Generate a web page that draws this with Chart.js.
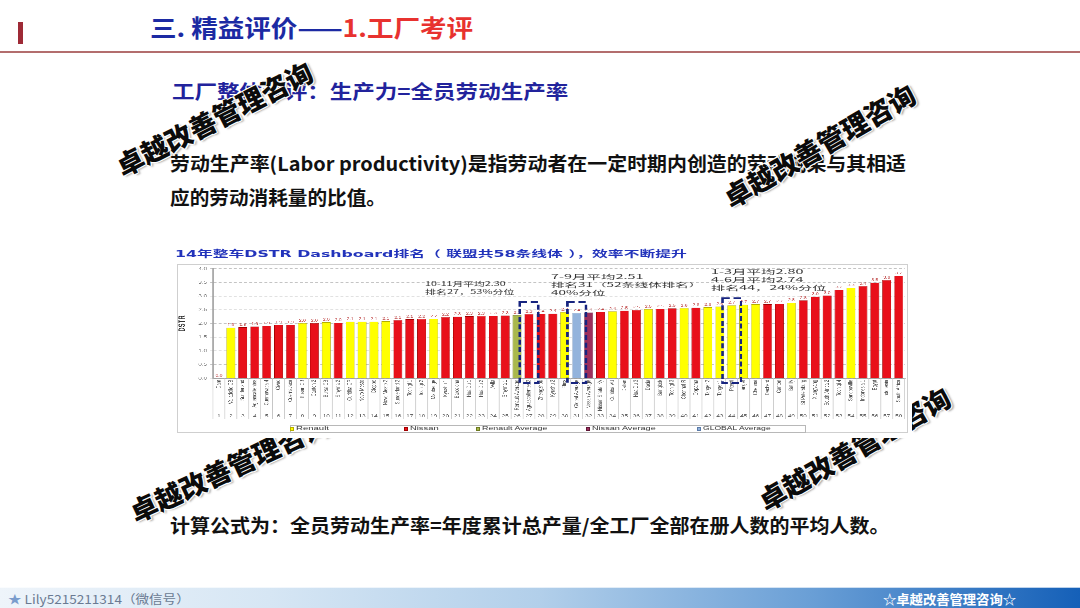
<!DOCTYPE html>
<html><head><meta charset="utf-8">
<script src="https://cdn.jsdelivr.net/npm/chart.js@4.4.1/dist/chart.umd.min.js"></script>
<style>
html,body{margin:0;padding:0;}
body{width:1080px;height:608px;position:relative;overflow:hidden;background:#fff;font-family:"Noto Sans CJK SC","Noto Sans",sans-serif;}
.t{position:absolute;white-space:nowrap;transform-origin:0 50%;display:inline-block;}
.wm{position:absolute;white-space:nowrap;font-family:"Noto Sans CJK SC";font-weight:900;font-size:27px;color:#0b0b0b;
  text-shadow:1px 1px 0 #fff,-1px -1px 0 #fff,1px -1px 0 #fff,-1px 1px 0 #fff,2px 2px 2px rgba(0,0,0,.35);}
</style></head><body>
<div style="position:absolute;left:18px;top:22px;width:5px;height:22px;background:#9e2a36;"></div>
<div style="position:absolute;left:0;top:51px;width:1080px;height:1.5px;background:#b36d6d;"></div>
<div class="wm" style="left:854px;top:448px;z-index:1;transform:translate(-50%,-50%) rotate(-30deg)">卓越改善管理咨询</div>
<div class="wm" style="left:229px;top:467px;z-index:1;transform:translate(-50%,-50%) rotate(-25deg)">卓越改善管理咨询</div>
<div style="position:absolute;left:170px;top:244px;width:742px;height:194px;background:#fff;z-index:2"></div>
<div id="wrap" style="position:absolute;left:177px;top:264px;width:504px;height:169px;transform:scaleX(1.4504);transform-origin:0 0;z-index:3">
  <canvas id="c"></canvas>
</div>
<div style="position:absolute;left:177px;top:264px;width:731px;height:169px;border:1px solid #cfcfcf;box-sizing:border-box;z-index:4"></div>
<div id="legendBox" style="position:absolute;left:290px;top:425px;width:516px;height:8px;border:1px solid #b8b8b8;box-sizing:border-box;background:#fff;z-index:5"></div>
<div id="layer"></div>
<div style="position:absolute;left:0;top:587px;width:1080px;height:21px;background:linear-gradient(to right,#eef4fa 0%,#d6e6f4 25%,#b2cfea 50%,#6a9fd6 75%,#1560b8 100%);z-index:5"></div>
<div style="position:absolute;left:0;top:587px;width:1080px;height:1px;background:rgba(255,255,255,.7);z-index:6"></div>
<div class="wm" style="left:214px;top:118px;z-index:10;transform:translate(-50%,-50%) rotate(-27deg)">卓越改善管理咨询</div>
<div class="wm" style="left:819px;top:145px;z-index:10;transform:translate(-50%,-50%) rotate(-30deg)">卓越改善管理咨询</div>
<script>
// ---- data ----
const categories = ["Dam","Valladolid CB","Sunderland","Aguascalientes","Cuernavaca 4","Civac","Cuernavaca","Busan CB","Canton 2","Bursa CB","Smyrna 2","Curitiba CP","Novo Mesto","Dieppe","Novo Mesto 2","Sunderland 2","Tochigi 1","Tochigi 2","Maubeuge","Kyushu 1","Barcelona","Hua Du 1","Hua Du 2","Avila","Smyrna 1","Renault Average","Aguascalientes 2","Zhengzhou","Kyushu 2","Flins","Global Average","Nissan Average","Nissan Shatai Kyushu","Curitiba VU","Dalian","Hua Du 3","Dacia","Bangkok","Tochigi 3","Chennai R","Oppama","Tanger 2","Tanger 1","Pitesti","Tanger","Chennai","Decherd","Canton","Batilly","St Petersburg","Xiangyang","South Africa 2","Tochigi 4","Sandouville","Indonesia 1","Egypt","Indonesia","South Africa"];
const rankNumbers = ["1","2","3","4","5","6","7","8","9","10","11","12","13","14","15","16","17","18","19","20","21","22","23","24","25","26","27","28","29","30","31","32","33","34","35","36","37","38","39","40","41","42","43","44","45","46","47","48","49","50","51","52","53","54","55","56","57","58"];
const dstrValues = [0.0,1.85,1.86,1.89,1.91,1.95,1.95,2.01,2.01,2.04,2.03,2.07,2.07,2.07,2.08,2.12,2.15,2.16,2.17,2.23,2.25,2.26,2.27,2.28,2.29,2.30,2.34,2.35,2.36,2.41,2.38,2.40,2.42,2.44,2.47,2.49,2.52,2.53,2.55,2.56,2.58,2.59,2.62,2.66,2.69,2.70,2.70,2.71,2.76,2.84,2.98,3.02,3.23,3.30,3.36,3.49,3.58,3.74];
const plantGroups = ["N","R","N","N","N","N","N","R","N","R","N","R","R","R","R","N","N","N","R","N","N","N","N","N","N","RA","N","N","N","R","GA","NA","N","R","N","N","R","N","N","R","N","R","R","R","R","R","N","N","R","N","N","N","N","R","N","N","N","N"];
const yTicksMin = 0, yTicksMax = 4, yStep = 0.5;
const legendLabels = ["Renault","Nissan","Renault Average","Nissan Average","GLOBAL Average"];
const legendGroups = ["R","N","RA","NA","GA"];
const highlightIdx = [26,30,43];
const highlightTop = [2.78,2.78,2.92];

// ---- styles ----
const fill = {R:"#ffff00",N:"#e8101a",RA:"#a9b84c",NA:"#9c2f5c",GA:"#93b3dc"};
const edge = {R:"#b5ad00",N:"#a00000",RA:"#6d7a20",NA:"#5e1535",GA:"#5a7aa8"};

const overlay = {
  id:"overlay",
  afterDatasetsDraw(chart){
    const ctx = chart.ctx, meta = chart.getDatasetMeta(0);
    ctx.save();
    ctx.font = "3.4px Arial"; ctx.fillStyle = "#c04848"; ctx.textAlign = "center"; ctx.textBaseline = "bottom";
    meta.data.forEach((el,i)=>{ ctx.fillText(dstrValues[i].toFixed(1), el.x, el.y - 0.8); });
    ctx.restore();
  },
  afterDraw(chart){
    const ctx = chart.ctx, xs = chart.scales.x, ys = chart.scales.y, a = chart.chartArea;
    const half = (xs.getPixelForValue(1) - xs.getPixelForValue(0)) / 2;
    ctx.save();
    ctx.strokeStyle = "#c6c6c6"; ctx.lineWidth = 0.5;
    const seps = categories.map((_,i)=>xs.getPixelForValue(i) - half);
    seps.push(xs.getPixelForValue(categories.length - 1) + half);
    seps.forEach(x=>{ ctx.beginPath(); ctx.moveTo(x, a.bottom); ctx.lineTo(x, a.bottom + 41); ctx.stroke(); });
    ctx.strokeStyle = "#17247f"; ctx.lineWidth = 1.7; ctx.setLineDash([5,2.6]);
    highlightIdx.forEach((idx,k)=>{
      const cx = xs.getPixelForValue(idx), w = half * 1.55;
      const top = ys.getPixelForValue(highlightTop[k]), bottom = a.bottom + 4.5;
      ctx.strokeRect(cx - w, top, 2 * w, bottom - top);
    });
    ctx.restore();
  }
};

new Chart(document.getElementById("c"), {
  type:"bar",
  data:{ labels:categories, datasets:[{ data:dstrValues,
    backgroundColor: plantGroups.map(g=>fill[g]), borderColor: plantGroups.map(g=>edge[g]), borderWidth:0.35,
    categoryPercentage:1, barPercentage:0.74 }]},
  options:{
    responsive:true, maintainAspectRatio:false, animation:false, devicePixelRatio:3,
    layout:{padding:{left:0,right:1.4,top:2.7,bottom:13.7}},
    plugins:{legend:{display:false}, tooltip:{enabled:false}},
    scales:{
      x:{ type:"category", position:"bottom", weight:0, offset:true,
        grid:{display:false, drawTicks:false, tickLength:0}, border:{display:true,color:"#8a8a8a",width:0.8},
        ticks:{autoSkip:false,maxRotation:90,minRotation:90,padding:1.5,color:"#555",font:{size:4.1,family:"Arial"},
          callback(v,i){ const s = categories[i]; return s.length > 16 ? s.slice(0,16) : s; }},
        afterFit(s){ s.height = 34; } },
      x2:{ type:"category", labels:rankNumbers, position:"bottom", weight:1, offset:true,
        grid:{display:false, drawTicks:false, tickLength:0}, border:{display:false},
        ticks:{autoSkip:false,maxRotation:0,minRotation:0,padding:1.2,color:"#666",font:{size:4.4,family:"Arial"}},
        afterFit(s){ s.height = 7; } },
      y:{ min:yTicksMin, max:yTicksMax,
        ticks:{stepSize:yStep, callback:v=>Number(v).toFixed(1), color:"#7a7a7a", font:{size:4.4,family:"Arial"}, padding:2},
        grid:{color:"#c4c4c4", lineWidth:0.6, tickLength:2},
        border:{color:"#8a8a8a", width:0.8, dash:[2,1.5]},
        title:{display:true, text:"DSTR", color:"#333", font:{size:6,weight:"bold",family:"Arial"}, padding:{top:0,bottom:0}},
        afterFit(s){ s.width = 24.8; } }
    }
  },
  plugins:[overlay]
});

// ---- slide texts ----
const texts = [
  {html:'三. 精益评价——<span style="color:#e8322f">1.工厂考评</span>', x:150, w:323, cy:27, fs:24, color:"#1c2aa3", weight:700},
  {html:'工厂整体考评：生产力=全员劳动生产率', x:172, w:396, cy:90, fs:19, color:"#22239c", weight:700},
  {html:'劳动生产率(Labor productivity)是指劳动者在一定时期内创造的劳动成果与其相适', x:170, w:736, cy:162, fs:19, color:"#111", weight:700},
  {html:'应的劳动消耗量的比值。', x:170, w:216, cy:196, fs:19, color:"#111", weight:700},
  {html:'计算公式为：全员劳动生产率=年度累计总产量/全工厂全部在册人数的平均人数。', x:170, w:720, cy:524, fs:19, color:"#111", weight:700},
  {html:'14年整车DSTR Dashboard排名（ 联盟共58条线体 ），效率不断提升', x:175, w:512, cy:254.5, fs:9, color:"#2233bb", weight:700, family:'"DejaVu Sans","Noto Sans CJK SC"'},
  {html:'10-11月平均2.30', x:425, w:80, cy:284.3, fs:5.5, color:"#333", weight:400},
  {html:'排名27，53%分位', x:425, w:90, cy:292.5, fs:5.5, color:"#333", weight:400},
  {html:'7-9月平均2.51', x:551, w:92, cy:277.6, fs:5.5, color:"#333", weight:400},
  {html:'排名31（52条线体排名）', x:551, w:152, cy:285.6, fs:5.5, color:"#333", weight:400},
  {html:'40%分位', x:551, w:54, cy:293.6, fs:5.5, color:"#333", weight:400},
  {html:'1-3月平均2.80', x:711, w:92, cy:272.4, fs:5.5, color:"#333", weight:400},
  {html:'4-6月平均2.74', x:711, w:92, cy:280.4, fs:5.5, color:"#333", weight:400},
  {html:'排名44，24%分位', x:711, w:116, cy:288.4, fs:5.5, color:"#333", weight:400},
  {html:'<span style="color:#7a9ccc">★</span> Lily5215211314（微信号）', x:8, w:182, cy:599, fs:12, color:"#6a7a92", weight:400},
  {html:'☆卓越改善管理咨询☆', x:883, w:133, cy:598.5, fs:13, color:"#fff", weight:700}
];
const legendX = [296,410,482,592,703], legendW = [33,29,66,63,67];
const layer = document.getElementById("layer");
const made = [];
function addText(o, z){
  const d = document.createElement("div");
  d.className = "t"; d.innerHTML = o.html;
  d.style.cssText += `left:${o.x}px;top:${o.cy - o.fs/2}px;font-size:${o.fs}px;line-height:${o.fs}px;color:${o.color};font-weight:${o.weight};z-index:${z};` + (o.family?`font-family:${o.family};`:"");
  layer.appendChild(d); made.push([d,o.w]);
}
texts.forEach(o=>addText(o,6));
legendLabels.forEach((lab,i)=>{
  const m = document.createElement("div");
  m.style.cssText = `position:absolute;left:${legendX[i]-6}px;top:427px;width:4px;height:4px;background:${fill[legendGroups[i]]};border:0.5px solid ${edge[legendGroups[i]]};box-sizing:border-box;z-index:6`;
  layer.appendChild(m);
  addText({html:lab, x:legendX[i], w:legendW[i], cy:429, fs:5.5, color:"#333", weight:400, family:'Arial,"Liberation Sans"'},6);
});
function fit(){ made.forEach(([d,w])=>{ const ow = d.offsetWidth; if (ow) d.style.transform = `scaleX(${w/ow})`; }); }
fit();
document.fonts.ready.then(fit);
</script>
</body></html>
